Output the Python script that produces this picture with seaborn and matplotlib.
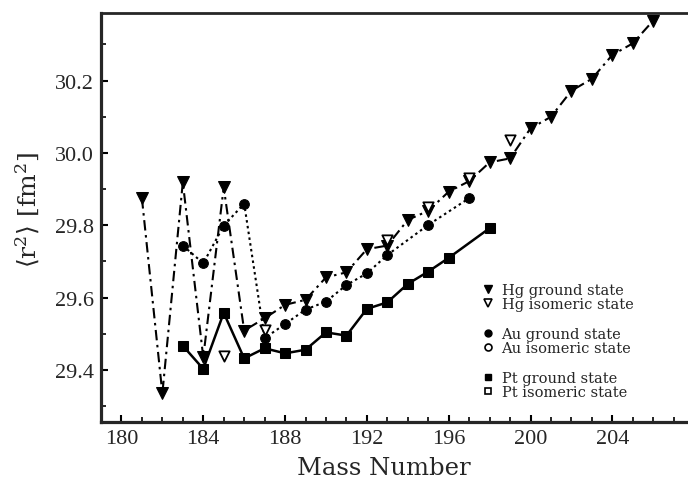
import numpy as np
import pandas as pd
import seaborn as sns
import matplotlib.pyplot as plt
from matplotlib.lines import Line2D
from matplotlib.ticker import MultipleLocator

# Valeurs
hg_mass = list(range(181, 207))
hg_ground = [29.875, 29.335, 29.919, 29.435, 29.905, 29.509, 29.543, 29.580,
             29.594, 29.656, 29.670, 29.734, 29.744, 29.815, 29.840, 29.893,
             29.922, 29.974, 29.985, 30.068, 30.100, 30.172, 30.205, 30.271,
             30.303, 30.366]
hg_iso_mass = [185, 187, 193, 195, 197, 199]
hg_iso = [29.44, 29.51, 29.76, 29.85, 29.93, 30.036]

au_mass = [183, 184, 185, 186, 187, 188, 189, 190, 191, 192, 193, 195, 197]
au_ground = [29.744, 29.695, 29.799, 29.860, 29.488, 29.527, 29.567, 29.589,
             29.635, 29.667, 29.718, 29.801, 29.875]

pt_mass = [183, 184, 185, 186, 187, 188, 189, 190, 191, 192, 193, 194, 195, 196, 198]
pt_ground = [29.467, 29.403, 29.558, 29.432, 29.460, 29.446, 29.456, 29.504,
             29.495, 29.569, 29.587, 29.638, 29.672, 29.710, 29.792]

sns.set_style('ticks')
plt.rcParams['font.family'] = ['DejaVu Serif']
plt.rcParams['mathtext.fontset'] = 'dejavuserif'

fig = plt.figure(figsize=(6.88, 4.81), dpi=100)
ax = fig.add_axes([101 / 688, 1 - 422.7 / 481, 587 / 688, (422.7 - 14) / 481])

# Hg : tirets-points
sns.lineplot(x=hg_mass, y=hg_ground, ax=ax, color='black', lw=1.5,
             marker='v', markersize=8, markeredgecolor='black')
ax.lines[-1].set_dashes([5, 2.2, 1.2, 2.2])
sns.scatterplot(x=hg_iso_mass, y=hg_iso, ax=ax, marker='v', s=55,
                facecolor='white', edgecolor='black', linewidth=1.3, zorder=5)

# Au : pointillés
sns.lineplot(x=au_mass, y=au_ground, ax=ax, color='black', lw=1.5,
             marker='o', markersize=7, markeredgecolor='black')
ax.lines[-1].set_dashes([1.2, 1.6])

# Pt : trait plein
sns.lineplot(x=pt_mass, y=pt_ground, ax=ax, color='black', lw=1.8,
             marker='s', markersize=7, markeredgecolor='black')

ax.set_xlim(179.0, 207.7)
ax.set_ylim(29.257, 30.387)
ax.xaxis.set_major_locator(MultipleLocator(4))
ax.xaxis.set_minor_locator(MultipleLocator(1))
ax.yaxis.set_major_locator(MultipleLocator(0.2))
ax.yaxis.set_minor_locator(MultipleLocator(0.1))
ax.set_yticks([29.4, 29.6, 29.8, 30.0, 30.2])
ax.set_yticklabels(['29.4', '29.6', '29.8', '30.0', '30.2'])
ax.set_xticks([180, 184, 188, 192, 196, 200, 204])
ax.set_xticklabels(['180', '184', '188', '192', '196', '200', '204'])

ax.tick_params(which='major', direction='in', length=5, width=1.5, color='black',
               labelsize=16, pad=5)
ax.tick_params(which='minor', direction='in', length=3.5, width=1.2, color='black')
for lab in ax.get_xticklabels() + ax.get_yticklabels():
    lab.set_fontfamily('Liberation Serif')

for s in ['left', 'bottom']:
    ax.spines[s].set_linewidth(2.3)
ax.spines['top'].set_linewidth(2.0)
ax.spines['right'].set_visible(False)

ax.set_xlabel('Mass Number', fontsize=17.5)
ax.xaxis.set_label_coords(0.482, -0.085)
ax.set_ylabel(r'$\langle \mathrm{r}^2 \rangle$ [fm$^2$]', fontsize=18)
ax.yaxis.set_label_coords(-0.1, 0.52)

# légende en trois groupes
groups = [
    ('Hg', 'v', 0.305),
    ('Au', 'o', 0.198),
    ('Pt', 's', 0.09),
]
for i, (el, mk, yc) in enumerate(groups):
    ms = 6 if mk == 'v' else 5
    handles = [
        Line2D([], [], ls='none', marker=mk, color='black', markersize=ms),
        Line2D([], [], ls='none', marker=mk, markerfacecolor='white',
               markeredgecolor='black', markersize=ms, markeredgewidth=1.2),
    ]
    leg = ax.legend(handles, [f'{el} ground state', f'{el} isomeric state'],
                    loc='center left', bbox_to_anchor=(0.65, yc), frameon=False,
                    fontsize=10.5, handlelength=0.8, handletextpad=0.5,
                    labelspacing=0.0, borderpad=0, borderaxespad=0)
    if i < len(groups) - 1:
        ax.add_artist(leg)

fig.savefig('out.png', dpi=100)
